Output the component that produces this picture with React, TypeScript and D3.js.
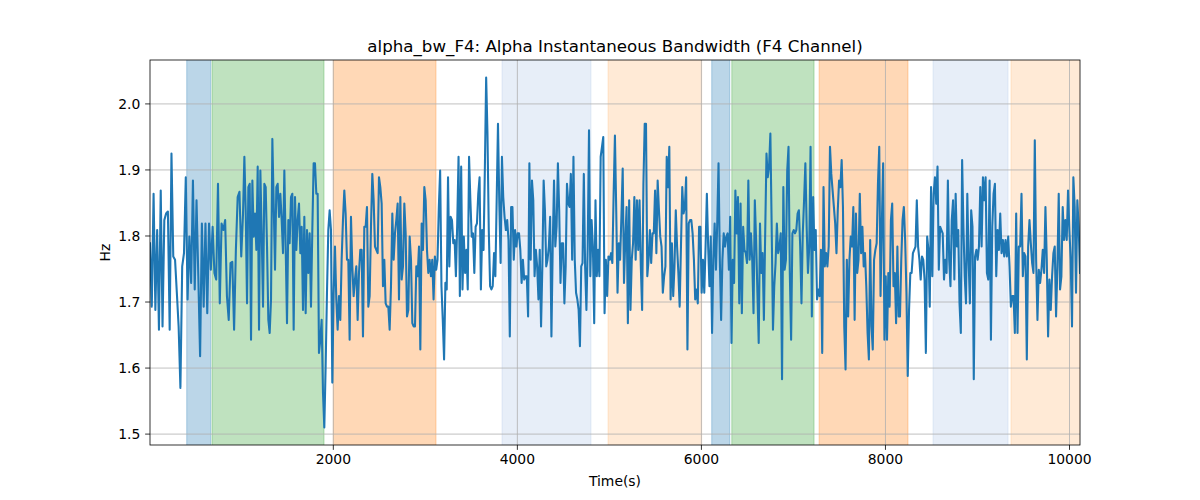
import React from 'react';
import * as d3 from 'd3';

// Time boundaries (s) of the ten stretches in which the samples below were read
const segmentBounds = [8, 1019, 2018, 3018, 4018, 5018, 6017, 7017, 8017, 9016, 10114];

const seg0 = [1.789,1.693,1.864,1.688,1.809,1.658,1.869,1.663,1.824,1.834,1.837,1.658,1.925,1.769,1.764,1.714,1.663,1.570,1.754,1.774,1.889,1.704,1.799,1.729,1.884,1.719,1.854,1.739,1.618,1.819,1.693,1.819,1.683,1.819,1.749,1.814,1.744,1.734,1.879,1.698,1.819,1.809,1.824,1.709,1.673,1.759,1.761,1.658,1.779,1.859,1.867,1.769];
const seg1 = [1.834,1.920,1.839,1.698,1.874,1.879,1.643,1.884,1.799,1.834,1.779,1.905,1.658,1.899,1.804,1.693,1.879,1.874,1.784,1.673,1.653,1.704,1.947,1.849,1.749,1.874,1.879,1.829,1.864,1.824,1.774,1.899,1.784,1.668,1.824,1.789,1.859,1.864,1.658,1.859,1.779,1.824,1.849,1.774,1.814,1.688,1.829,1.683,1.809,1.744,1.804,1.693,1.809,1.910,1.910,1.864,1.864,1.623,1.643,1.673,1.563,1.510,1.603,1.714,1.809,1.839,1.809,1.578,1.714];
const seg2 = [1.784,1.704,1.658,1.709,1.673,1.764,1.824,1.869,1.834,1.764,1.764,1.643,1.829,1.754,1.709,1.734,1.754,1.673,1.744,1.779,1.779,1.648,1.814,1.814,1.844,1.693,1.709,1.814,1.894,1.854,1.784,1.779,1.774,1.889,1.874,1.849,1.724,1.764,1.698,1.693,1.693,1.658,1.724,1.834,1.764,1.804,1.824,1.849,1.704,1.859,1.734,1.754,1.849,1.804,1.678,1.688,1.799,1.764,1.668,1.663,1.663,1.754,1.739,1.784,1.628,1.819,1.779,1.874,1.854];
const seg3 = [1.779,1.744,1.764,1.739,1.764,1.704,1.769,1.749,1.764,1.844,1.899,1.724,1.673,1.613,1.729,1.719,1.889,1.754,1.829,1.824,1.789,1.794,1.739,1.819,1.920,1.709,1.905,1.719,1.799,1.744,1.779,1.719,1.920,1.854,1.799,1.804,1.744,1.814,1.819,1.864,1.889,1.719,1.809,1.779,1.899,2.040,1.955,1.809,1.724,1.719,1.724,1.774,1.739,1.854,1.970,1.849,1.759,1.920,1.859,1.829,1.809,1.824,1.794,1.648,1.844,1.844,1.764,1.809,1.784,1.804];
const seg4 = [1.804,1.779,1.729,1.764,1.734,1.739,1.739,1.678,1.910,1.764,1.884,1.854,1.739,1.779,1.754,1.704,1.779,1.663,1.754,1.884,1.839,1.754,1.764,1.784,1.829,1.648,1.784,1.884,1.784,1.814,1.910,1.839,1.729,1.789,1.789,1.698,1.754,1.879,1.849,1.844,1.894,1.764,1.920,1.764,1.714,1.704,1.688,1.633,1.754,1.759,1.894,1.754,1.688,1.784,1.960,1.739,1.824,1.784,1.668,1.854,1.739,1.779,1.739,1.920,1.935,1.950,1.683,1.764,1.709,1.769,1.764];
const seg5 = [1.774,1.759,1.864,1.952,1.839,1.714,1.789,1.764,1.829,1.902,1.729,1.794,1.844,1.668,1.854,1.688,1.764,1.789,1.859,1.764,1.854,1.779,1.854,1.754,1.688,1.879,1.970,1.970,1.739,1.764,1.809,1.759,1.804,1.804,1.869,1.774,1.884,1.839,1.799,1.784,1.714,1.739,1.754,1.920,1.874,1.935,1.704,1.789,1.709,1.754,1.839,1.784,1.744,1.693,1.784,1.874,1.834,1.844,1.889,1.628,1.819,1.824,1.824,1.804,1.764,1.704,1.719,1.698,1.814,1.814,1.714];
const seg6 = [1.764,1.714,1.784,1.864,1.784,1.724,1.799,1.653,1.764,1.819,1.749,1.819,1.910,1.764,1.673,1.764,1.804,1.784,1.799,1.804,1.749,1.829,1.638,1.764,1.729,1.869,1.804,1.859,1.698,1.849,1.683,1.814,1.779,1.774,1.759,1.884,1.764,1.804,1.764,1.683,1.854,1.794,1.714,1.638,1.819,1.744,1.774,1.673,1.804,1.925,1.889,1.905,1.955,1.814,1.658,1.724,1.759,1.819,1.774,1.784,1.804,1.583,1.874,1.749,1.764,1.899,1.935,1.744,1.643,1.804,1.809];
const seg7 = [1.804,1.809,1.834,1.839,1.784,1.698,1.804,1.854,1.910,1.814,1.744,1.784,1.935,1.678,1.859,1.779,1.809,1.704,1.719,1.709,1.779,1.623,1.874,1.754,1.774,1.754,1.784,1.935,1.894,1.869,1.844,1.819,1.774,1.839,1.884,1.874,1.915,1.844,1.663,1.598,1.764,1.678,1.764,1.799,1.784,1.844,1.673,1.834,1.744,1.764,1.864,1.774,1.814,1.754,1.774,1.724,1.653,1.613,1.794,1.663,1.628,1.764,1.779,1.789,1.879,1.935,1.709,1.819,1.910,1.643,1.739];
const seg8 = [1.643,1.744,1.693,1.824,1.849,1.724,1.744,1.668,1.784,1.678,1.678,1.764,1.824,1.844,1.794,1.714,1.588,1.688,1.744,1.744,1.774,1.779,1.784,1.854,1.784,1.764,1.734,1.769,1.764,1.734,1.623,1.799,1.779,1.693,1.874,1.739,1.864,1.889,1.849,1.905,1.749,1.814,1.809,1.804,1.734,1.764,1.744,1.884,1.764,1.724,1.824,1.854,1.734,1.864,1.784,1.809,1.698,1.653,1.915,1.814,1.739,1.698,1.864,1.764,1.698,1.839,1.814,1.583,1.769,1.779,1.764];
const seg9 = [1.784,1.874,1.784,1.889,1.854,1.889,1.744,1.734,1.884,1.643,1.814,1.864,1.879,1.739,1.809,1.779,1.834,1.774,1.794,1.769,1.794,1.769,1.799,1.754,1.693,1.709,1.709,1.653,1.834,1.653,1.784,1.784,1.864,1.739,1.774,1.769,1.613,1.784,1.824,1.789,1.759,1.744,1.945,1.764,1.673,1.749,1.729,1.749,1.779,1.744,1.844,1.764,1.648,1.734,1.688,1.739,1.774,1.784,1.678,1.754,1.864,1.719,1.739,1.844,1.794,1.824,1.794,1.869,1.809,1.764,1.663,1.889,1.844,1.714,1.854,1.814,1.744];

const segments = [seg0, seg1, seg2, seg3, seg4, seg5, seg6, seg7, seg8, seg9];

// Shaded intervals (s)
const bandStarts = [407, 682, 2000, 3833, 4985, 6112, 6330, 7279, 8517, 9364];
const bandEnds = [668, 1899, 3116, 4800, 6003, 6308, 7224, 8245, 9332, 10200];
const bandKinds = ['blue', 'green', 'orange', 'lightblue', 'lightorange', 'blue', 'green', 'orange', 'lightblue', 'lightorange'];

const xTicks = [2000, 4000, 6000, 8000, 10000];
const yTicks = [1.5, 1.6, 1.7, 1.8, 1.9, 2.0];

const title = 'alpha_bw_F4: Alpha Instantaneous Bandwidth (F4 Channel)';
const xLabel = 'Time(s)';
const yLabel = 'Hz';

const kindColor: Record<string, string> = {
  blue: '#1f77b4',
  green: '#2ca02c',
  orange: '#ff7f0e',
  lightblue: '#aec7e8',
  lightorange: '#ffbb78',
};

export default function App() {
  const W = 1200, H = 500;
  const L = 150, R = 1080, T = 60, B = 445;
  const font = 'DejaVu Sans, sans-serif';

  const points: [number, number][] = [];
  segments.forEach((seg, k) => {
    const t0 = segmentBounds[k];
    const t1 = segmentBounds[k + 1];
    const last = k === segments.length - 1;
    const step = (t1 - t0) / (last ? seg.length - 1 : seg.length);
    seg.forEach((v, j) => points.push([t0 + j * step, v]));
  });

  const xExt = d3.extent(points, (p) => p[0]) as [number, number];
  const yExt = d3.extent(points, (p) => p[1]) as [number, number];
  const pad = (yExt[1] - yExt[0]) * 0.05;
  const x = d3.scaleLinear().domain(xExt).range([L, R]);
  const y = d3.scaleLinear().domain([yExt[0] - pad, yExt[1] + pad]).range([B, T]);

  const line = d3.line<[number, number]>().x((p) => x(p[0])).y((p) => y(p[1]));

  const tickLen = 4.86;
  const tickFs = 13.9;

  return (
    <svg width={W} height={H} style={{ position: 'absolute', left: 0, top: 0, background: '#fff' }} fontFamily={font}>
      <defs>
        <clipPath id="plotclip">
          <rect x={L} y={T} width={R - L} height={B - T} />
        </clipPath>
      </defs>
      <rect x={0} y={0} width={W} height={H} fill="#fff" />
      <g clipPath="url(#plotclip)">
        {bandStarts.map((s, i) => {
          const c = kindColor[bandKinds[i]];
          const x0 = x(s);
          const x1 = x(bandEnds[i]);
          return (
            <rect key={'b' + i} x={x0} y={T - 2} width={x1 - x0} height={B - T + 4}
              fill={c} fillOpacity={0.3} stroke={c} strokeOpacity={0.3} strokeWidth={1} />
          );
        })}
        {yTicks.map((t) => (
          <line key={'gy' + t} x1={L} x2={R} y1={y(t)} y2={y(t)} stroke="#b0b0b0" strokeWidth={0.8} />
        ))}
        {xTicks.map((t) => (
          <line key={'gx' + t} x1={x(t)} x2={x(t)} y1={T} y2={B} stroke="#b0b0b0" strokeWidth={0.8} />
        ))}
        <path d={line(points) || ''} fill="none" stroke="#1f77b4" strokeWidth={2.08} strokeLinejoin="round" strokeLinecap="square" />
      </g>
      <rect x={L} y={T} width={R - L} height={B - T} fill="none" stroke="#000" strokeWidth={0.8} />
      {xTicks.map((t) => (
        <g key={'xt' + t}>
          <line x1={x(t)} x2={x(t)} y1={B} y2={B + tickLen} stroke="#000" strokeWidth={0.8} />
          <text x={x(t)} y={B + tickLen + 3.5 + 11} fontSize={tickFs} textAnchor="middle" fill="#000">{t}</text>
        </g>
      ))}
      {yTicks.map((t) => (
        <g key={'yt' + t}>
          <line x1={L - tickLen} x2={L} y1={y(t)} y2={y(t)} stroke="#000" strokeWidth={0.8} />
          <text x={L - tickLen - 4.86} y={y(t)} dy="0.35em" fontSize={tickFs} textAnchor="end" fill="#000">{t.toFixed(1)}</text>
        </g>
      ))}
      <text x={(L + R) / 2} y={52} fontSize={16.67} textAnchor="middle" fill="#000">{title}</text>
      <text x={(L + R) / 2} y={486} fontSize={tickFs} textAnchor="middle" fill="#000">{xLabel}</text>
      <text transform={`translate(110, ${(T + B) / 2}) rotate(-90)`} fontSize={tickFs} textAnchor="middle" fill="#000">{yLabel}</text>
    </svg>
  );
}
